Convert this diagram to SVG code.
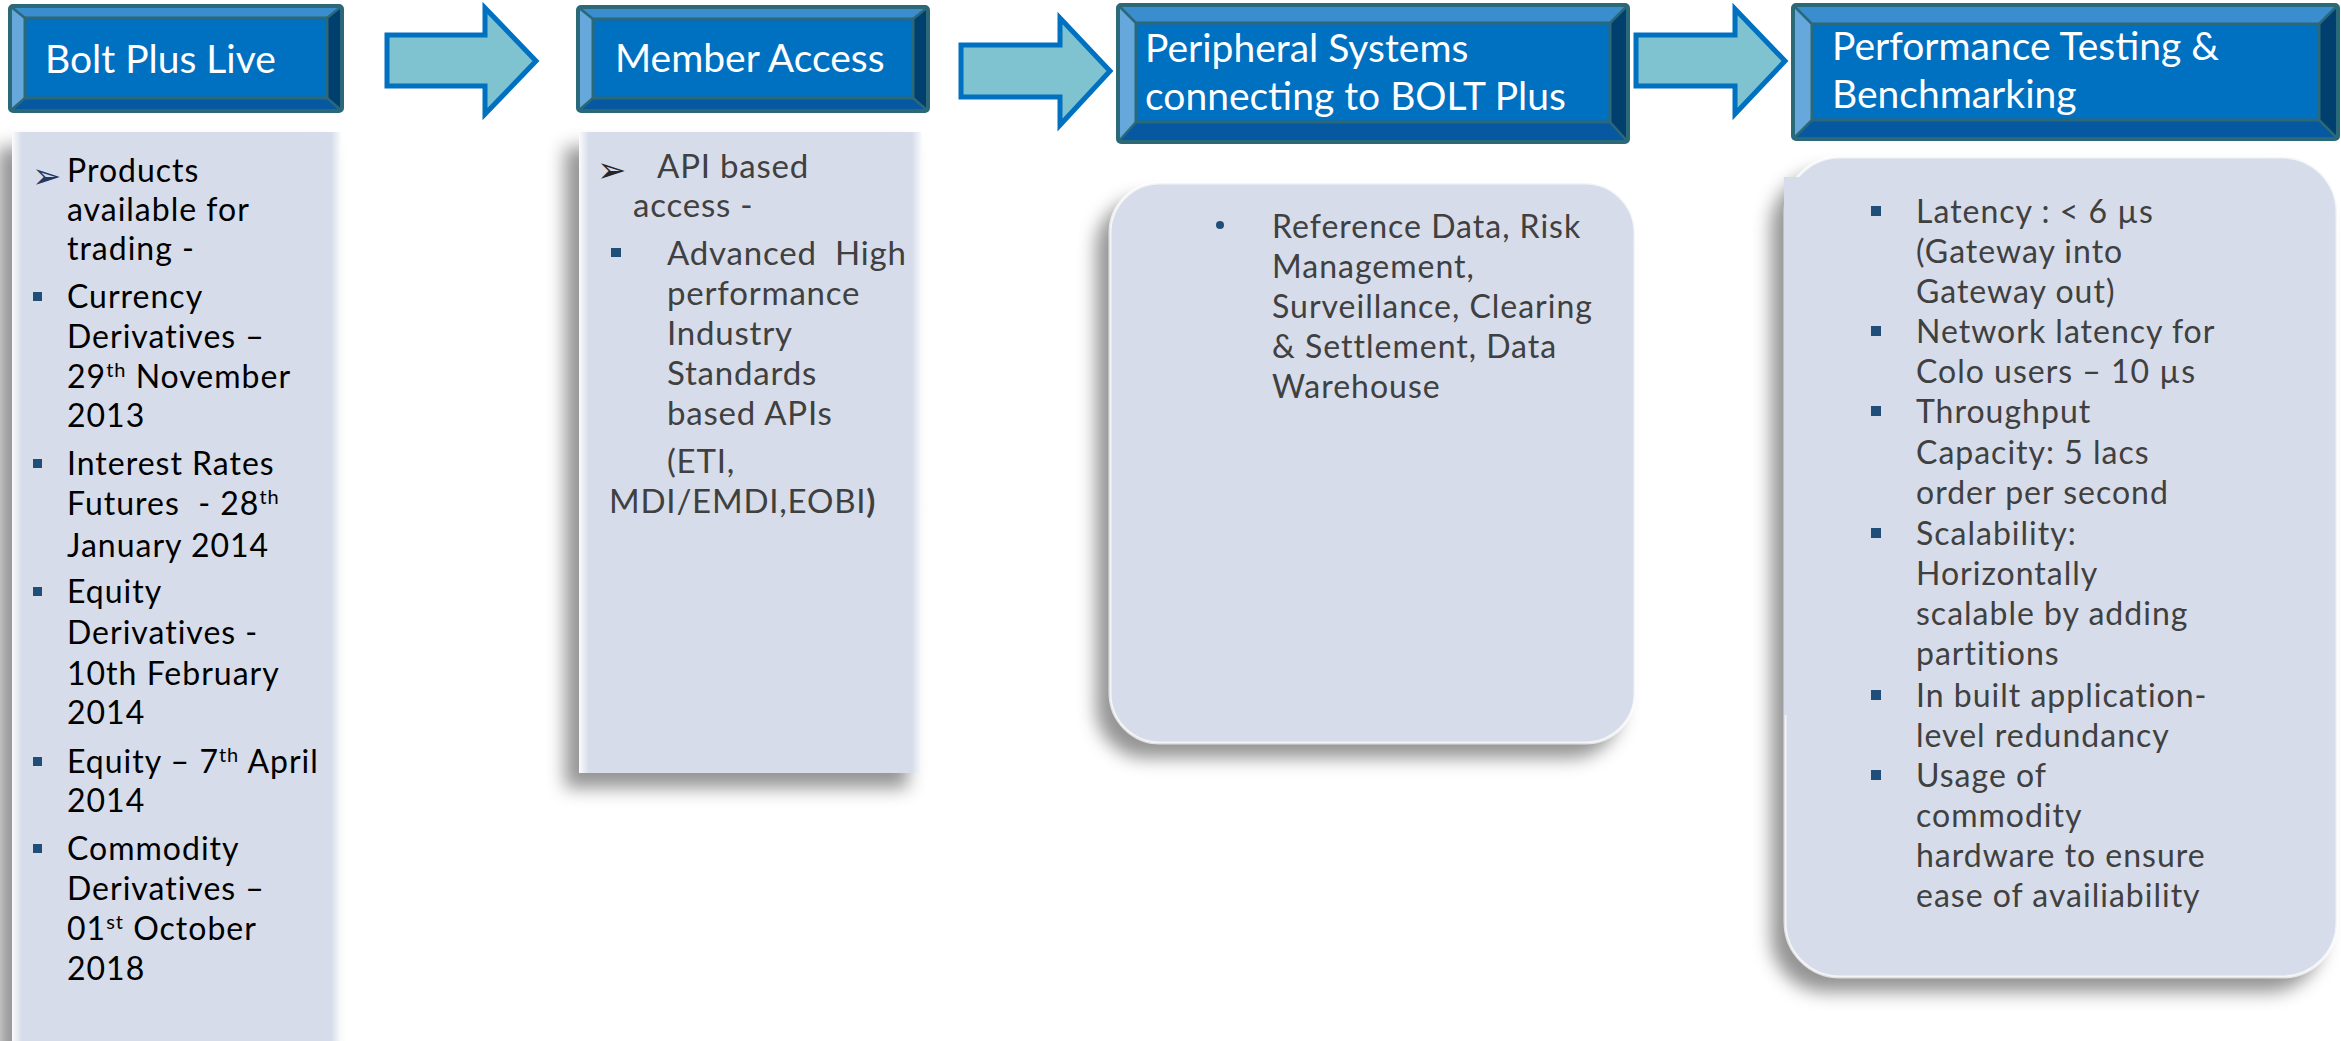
<svg xmlns="http://www.w3.org/2000/svg" width="2341" height="1041" viewBox="0 0 2341 1041">
<defs>
<filter id="shadow" x="-20%" y="-20%" width="140%" height="140%">
<feDropShadow dx="-14" dy="15" stdDeviation="9" flood-color="#000" flood-opacity="0.42"/>
</filter>
<linearGradient id="edgeL" x1="0" y1="0" x2="1" y2="0">
<stop offset="0" stop-color="#ffffff" stop-opacity="0.9"/>
<stop offset="1" stop-color="#ffffff" stop-opacity="0"/>
</linearGradient>
<linearGradient id="edgeR" x1="1" y1="0" x2="0" y2="0">
<stop offset="0" stop-color="#ffffff" stop-opacity="0.9"/>
<stop offset="1" stop-color="#ffffff" stop-opacity="0"/>
</linearGradient>
</defs>
<style>
.bt{fill:#3a8dcf}
.bl{fill:#66a8dc}
.br{fill:#003f6e}
.bb{fill:#0658a0}
.face{fill:#0070c0;stroke:#2b6878;stroke-width:3}
.edge{fill:none;stroke:#2b6878;stroke-width:4}
.diag{stroke:#2b6878;stroke-width:2.5}
.ht{font-family:Lato,"Liberation Sans",sans-serif;font-size:39px;fill:#ffffff}
.panel{fill:#d6dce9}
.t1{font-family:Lato,"Liberation Sans",sans-serif;font-size:32px;letter-spacing:1px;fill:#000000;white-space:pre}
.t2{font-family:Lato,"Liberation Sans",sans-serif;font-size:33px;fill:#404040;white-space:pre;letter-spacing:0.8px}
.t3{font-family:Lato,"Liberation Sans",sans-serif;font-size:32px;letter-spacing:1px;fill:#404040;white-space:pre}
.sq{fill:#1f4e79}
.arr{font-family:"DejaVu Sans",sans-serif;font-size:35px}
.conn{fill:#7fc3d1;stroke:#0070c0;stroke-width:5;stroke-linejoin:miter}
</style>
<rect width="2341" height="1041" fill="#ffffff"/>

<g id="connectors">
<path class="conn" d="M387,35 H485 V8 L536,61 L485,114 V86 H387 Z"/>
<path class="conn" d="M961,45 H1060 V18 L1110,71 L1060,125 V97 H961 Z"/>
<path class="conn" d="M1636,35 H1735 V9 L1785,61 L1735,114 V86 H1636 Z"/>
</g>

<g id="header-bolt-plus-live">
<rect x="10" y="6" width="332" height="105" rx="3" fill="#0070c0"/>
<polygon class="bt" points="10,6 342,6 327,18 25,18"/>
<polygon class="bl" points="10,6 25,18 25,98 10,111"/>
<polygon class="br" points="342,6 342,111 327,98 327,18"/>
<polygon class="bb" points="10,111 25,98 327,98 342,111"/>
<rect class="face" x="25" y="18" width="302" height="80"/>
<line class="diag" x1="10" y1="6" x2="25" y2="18"/><line class="diag" x1="342" y1="6" x2="327" y2="18"/>
<line class="diag" x1="10" y1="111" x2="25" y2="98"/><line class="diag" x1="342" y1="111" x2="327" y2="98"/>
<rect class="edge" x="10" y="6" width="332" height="105" rx="3"/>
<text class="ht" x="45" y="73">Bolt Plus Live</text>
</g>

<g id="header-member-access">
<rect x="578" y="7" width="350" height="104" rx="3" fill="#0070c0"/>
<polygon class="bt" points="578,7 928,7 913,19 593,19"/>
<polygon class="bl" points="578,7 593,19 593,98 578,111"/>
<polygon class="br" points="928,7 928,111 913,98 913,19"/>
<polygon class="bb" points="578,111 593,98 913,98 928,111"/>
<rect class="face" x="593" y="19" width="320" height="79"/>
<line class="diag" x1="578" y1="7" x2="593" y2="19"/><line class="diag" x1="928" y1="7" x2="913" y2="19"/>
<line class="diag" x1="578" y1="111" x2="593" y2="98"/><line class="diag" x1="928" y1="111" x2="913" y2="98"/>
<rect class="edge" x="578" y="7" width="350" height="104" rx="3"/>
<text class="ht" x="615" y="72">Member Access</text>
</g>

<g id="header-peripheral-systems">
<rect x="1118" y="5" width="510" height="137" rx="3" fill="#0070c0"/>
<polygon class="bt" points="1118,5 1628,5 1610,23 1136,23"/>
<polygon class="bl" points="1118,5 1136,23 1136,122 1118,142"/>
<polygon class="br" points="1628,5 1628,142 1610,122 1610,23"/>
<polygon class="bb" points="1118,142 1136,122 1610,122 1628,142"/>
<rect class="face" x="1136" y="23" width="474" height="99"/>
<line class="diag" x1="1118" y1="5" x2="1136" y2="23"/><line class="diag" x1="1628" y1="5" x2="1610" y2="23"/>
<line class="diag" x1="1118" y1="142" x2="1136" y2="122"/><line class="diag" x1="1628" y1="142" x2="1610" y2="122"/>
<rect class="edge" x="1118" y="5" width="510" height="137" rx="3"/>
<text class="ht" x="1145" y="62">Peripheral Systems</text>
<text class="ht" x="1145" y="110">connecting to BOLT Plus</text>
</g>

<g id="header-performance-testing">
<rect x="1793" y="5" width="545" height="134" rx="3" fill="#0070c0"/>
<polygon class="bt" points="1793,5 2338,5 2319,24 1812,24"/>
<polygon class="bl" points="1793,5 1812,24 1812,120 1793,139"/>
<polygon class="br" points="2338,5 2338,139 2319,120 2319,24"/>
<polygon class="bb" points="1793,139 1812,120 2319,120 2338,139"/>
<rect class="face" x="1812" y="24" width="507" height="96"/>
<line class="diag" x1="1793" y1="5" x2="1812" y2="24"/><line class="diag" x1="2338" y1="5" x2="2319" y2="24"/>
<line class="diag" x1="1793" y1="139" x2="1812" y2="120"/><line class="diag" x1="2338" y1="139" x2="2319" y2="120"/>
<rect class="edge" x="1793" y="5" width="545" height="134" rx="3"/>
<text class="ht" x="1832" y="60">Performance Testing &amp;</text>
<text class="ht" x="1832" y="108">Benchmarking</text>
</g>

<g id="content-bolt-plus-live">
<rect class="panel" x="12" y="132" width="329" height="930" filter="url(#shadow)"/>
<rect x="12" y="132" width="10" height="930" fill="url(#edgeL)"/>
<rect x="331" y="132" width="10" height="930" fill="url(#edgeR)"/>
<text class="arr" x="32" y="188" fill="#1f3864">➢</text>
<text class="t1" x="67" y="182">Products</text>
<text class="t1" x="67" y="221">available for</text>
<text class="t1" x="67" y="260">trading -</text>
<rect class="sq" x="33" y="292" width="9" height="9"/>
<text class="t1" x="67" y="308">Currency</text>
<text class="t1" x="67" y="348">Derivatives –</text>
<text class="t1" x="67" y="388">29<tspan font-size="20" dy="-11">th</tspan><tspan dy="11"> November</tspan></text>
<text class="t1" x="67" y="427">2013</text>
<rect class="sq" x="33" y="459" width="9" height="9"/>
<text class="t1" x="67" y="475">Interest Rates</text>
<text class="t1" x="67" y="515">Futures  - 28<tspan font-size="20" dy="-11">th</tspan></text>
<text class="t1" x="67" y="557">January 2014</text>
<rect class="sq" x="33" y="587" width="9" height="9"/>
<text class="t1" x="67" y="603">Equity</text>
<text class="t1" x="67" y="644">Derivatives -</text>
<text class="t1" x="67" y="685">10th February</text>
<text class="t1" x="67" y="724">2014</text>
<rect class="sq" x="33" y="757" width="9" height="9"/>
<text class="t1" x="67" y="773">Equity – 7<tspan font-size="20" dy="-11">th</tspan><tspan dy="11"> April</tspan></text>
<text class="t1" x="67" y="812">2014</text>
<rect class="sq" x="33" y="844" width="9" height="9"/>
<text class="t1" x="67" y="860">Commodity</text>
<text class="t1" x="67" y="900">Derivatives –</text>
<text class="t1" x="67" y="940">01<tspan font-size="20" dy="-11">st</tspan><tspan dy="11"> October</tspan></text>
<text class="t1" x="67" y="980">2018</text>
</g>

<g id="content-member-access">
<rect class="panel" x="579" y="132" width="343" height="641" filter="url(#shadow)"/>
<rect x="579" y="132" width="10" height="641" fill="url(#edgeL)"/>
<rect x="912" y="132" width="10" height="641" fill="url(#edgeR)"/>
<text class="arr" x="597" y="182" fill="#262626">➢</text>
<text class="t2" x="657" y="178">API based</text>
<text class="t2" x="633" y="217">access -</text>
<rect class="sq" x="611" y="248" width="10" height="9"/>
<text class="t2" x="667" y="265">Advanced</text>
<text class="t2" x="835" y="265">High</text>
<text class="t2" x="667" y="305">performance</text>
<text class="t2" x="667" y="345">Industry</text>
<text class="t2" x="667" y="385">Standards</text>
<text class="t2" x="667" y="425">based APIs</text>
<text class="t2" x="667" y="473">(ETI,</text>
<text class="t2" x="609" y="513">MDI/EMDI,EOBI<tspan font-weight="bold">)</tspan></text>
</g>

<g id="content-peripheral-systems">
<rect class="panel" x="1110" y="183" width="525" height="560" rx="50" filter="url(#shadow)"/>
<rect x="1110" y="183" width="525" height="560" rx="50" fill="none" stroke="#ffffff" stroke-opacity="0.7" stroke-width="3"/>
<circle cx="1220" cy="225" r="4" fill="#1f4e79"/>
<text class="t3" x="1272" y="238">Reference Data, Risk</text>
<text class="t3" x="1272" y="278">Management,</text>
<text class="t3" x="1272" y="318">Surveillance, Clearing</text>
<text class="t3" x="1272" y="358">&amp; Settlement, Data</text>
<text class="t3" x="1272" y="398">Warehouse</text>
</g>

<g id="content-performance-testing">
<rect class="panel" x="1785" y="157" width="552" height="820" rx="55" filter="url(#shadow)"/>
<rect x="1785" y="157" width="552" height="820" rx="55" fill="none" stroke="#ffffff" stroke-opacity="0.7" stroke-width="3"/>
<rect class="panel" x="1784" y="177" width="200" height="538"/>
<rect class="sq" x="1871" y="206" width="10" height="10"/>
<text class="t3" x="1916" y="223">Latency : &lt; 6 µs</text>
<text class="t3" x="1916" y="263">(Gateway into</text>
<text class="t3" x="1916" y="303">Gateway out)</text>
<rect class="sq" x="1871" y="326" width="10" height="10"/>
<text class="t3" x="1916" y="343">Network latency for</text>
<text class="t3" x="1916" y="383">Colo users – 10 µs</text>
<rect class="sq" x="1871" y="406" width="10" height="10"/>
<text class="t3" x="1916" y="423">Throughput</text>
<text class="t3" x="1916" y="464">Capacity: 5 lacs</text>
<text class="t3" x="1916" y="504">order per second</text>
<rect class="sq" x="1871" y="528" width="10" height="10"/>
<text class="t3" x="1916" y="545">Scalability:</text>
<text class="t3" x="1916" y="585">Horizontally</text>
<text class="t3" x="1916" y="625">scalable by adding</text>
<text class="t3" x="1916" y="665">partitions</text>
<rect class="sq" x="1871" y="690" width="10" height="10"/>
<text class="t3" x="1916" y="707">In built application-</text>
<text class="t3" x="1916" y="747">level redundancy</text>
<rect class="sq" x="1871" y="770" width="10" height="10"/>
<text class="t3" x="1916" y="787">Usage of</text>
<text class="t3" x="1916" y="827">commodity</text>
<text class="t3" x="1916" y="867">hardware to ensure</text>
<text class="t3" x="1916" y="907">ease of availiability</text>
</g>
</svg>
